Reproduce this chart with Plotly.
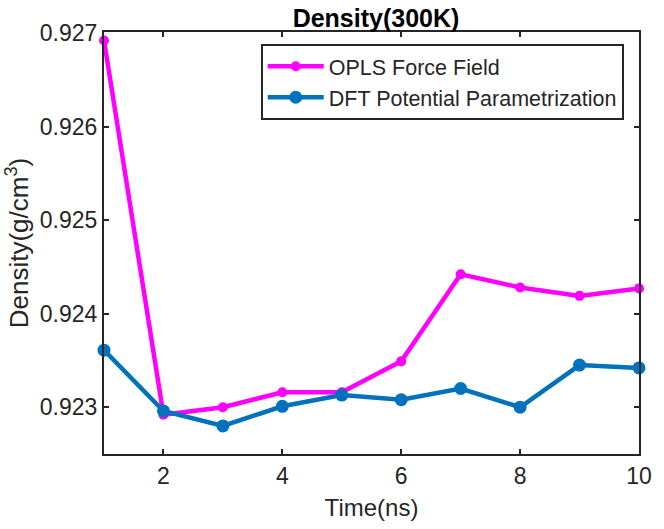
import plotly.graph_objects as go

time_ns = [1, 2, 3, 4, 5, 6, 7, 8, 9, 10]
opls = [0.92692, 0.92292, 0.92300, 0.92316, 0.92316, 0.92349, 0.92442, 0.92428, 0.92419, 0.92427]
dft = [0.92361, 0.92296, 0.92280, 0.92301, 0.92313, 0.92308, 0.92320, 0.92300, 0.92345, 0.92342]
x_ticks = [2, 4, 6, 8, 10]
y_ticks = [0.923, 0.924, 0.925, 0.926, 0.927]
y_tick_labels = ["0.923", "0.924", "0.925", "0.926", "0.927"]

FONT = "Liberation Sans, Arial, sans-serif"
TXT = "#262626"

fig = go.Figure()
fig.add_trace(go.Scatter(
    x=time_ns, y=opls, mode="lines+markers", name="OPLS Force Field",
    line=dict(color="#FF00FF", width=4.5),
    marker=dict(symbol="circle", size=10, color="#FF00FF"),
    cliponaxis=False,
))
fig.add_trace(go.Scatter(
    x=time_ns, y=dft, mode="lines+markers", name="DFT Potential Parametrization",
    line=dict(color="#0072BD", width=4.5),
    marker=dict(symbol="circle", size=13, color="#0072BD"),
    cliponaxis=False,
))

fig.update_layout(
    width=664, height=529,
    margin=dict(l=104, r=21, t=32, b=72),
    paper_bgcolor="white", plot_bgcolor="white",
    font=dict(family=FONT, color=TXT, size=22),
    title=dict(text="<b>Density(300K)</b>", x=376 / 664, xanchor="center",
               y=1 - 18 / 529, yanchor="middle",
               font=dict(family=FONT, size=25, color="black")),
    showlegend=True,
    legend=dict(x=0.293, y=0.972, xanchor="left", yanchor="top",
                bgcolor="white", bordercolor="#262626", borderwidth=2,
                font=dict(family=FONT, size=21.5, color=TXT),
                tracegroupgap=0, itemwidth=56),
    xaxis=dict(range=[1, 10], tickvals=x_ticks, ticks="inside", ticklen=5, tickwidth=2,
               tickcolor="#262626", showline=True, linecolor="#262626", linewidth=2,
               mirror="ticks", showgrid=False, zeroline=False,
               tickfont=dict(size=23, family=FONT, color=TXT),
               title=dict(text="Time(ns)", font=dict(size=24, family=FONT, color=TXT), standoff=12)),
    yaxis=dict(range=[0.9225, 0.92701], tickvals=y_ticks, ticktext=y_tick_labels,
               ticks="inside", ticklen=5, tickwidth=2,
               tickcolor="#262626", showline=True, linecolor="#262626", linewidth=2,
               mirror="ticks", showgrid=False, zeroline=False,
               tickfont=dict(size=23, family=FONT, color=TXT),
               title=dict(text="Density(g/cm<sup>3</sup>)", font=dict(size=26, family=FONT, color=TXT), standoff=4)),
)

fig.write_html("out.html")
